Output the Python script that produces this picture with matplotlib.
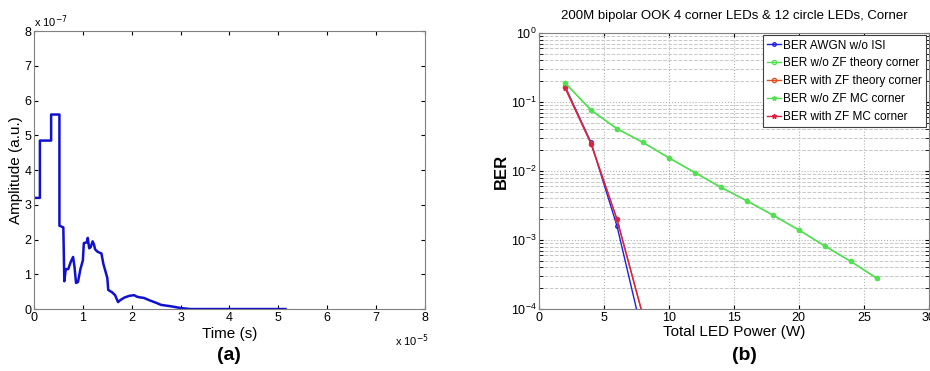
import numpy as np
import matplotlib
matplotlib.use("Agg")
from matplotlib import pyplot as plt

plt.rcParams['font.family'] = ['Liberation Sans', 'DejaVu Sans']

# (a) impulse response, time in 1e-5 s, amplitude in 1e-7
t_a = [0, 0.12, 0.12, 0.35, 0.35, 0.52, 0.52, 0.60, 0.62, 0.65, 0.70, 0.75, 0.80, 0.83, 0.86,
       0.90, 0.95, 1.00, 1.02, 1.08, 1.10, 1.13, 1.16, 1.20, 1.23, 1.25, 1.30, 1.38, 1.42,
       1.47, 1.50, 1.52, 1.60, 1.66, 1.72, 1.76, 1.85, 1.95, 2.05, 2.10, 2.15, 2.25, 2.35,
       2.50, 2.60, 2.80, 3.00, 3.20, 5.15]
amp_a = [3.2, 3.2, 4.85, 4.85, 5.6, 5.6, 2.4, 2.35, 0.8, 1.15, 1.15, 1.35, 1.5, 1.2, 0.75,
         0.78, 1.15, 1.4, 1.9, 1.92, 2.05, 1.75, 1.78, 1.95, 1.85, 1.72, 1.65, 1.6, 1.3,
         1.05, 0.9, 0.55, 0.48, 0.4, 0.2, 0.25, 0.33, 0.38, 0.4, 0.36, 0.34, 0.32, 0.26,
         0.18, 0.12, 0.08, 0.03, 0.0, 0.0]

# (b) BER vs total LED power
p_green = [2, 4, 6, 8, 10, 12, 14, 16, 18, 20, 22, 24, 26]
ber_nozf_th = [0.19, 0.077, 0.041, 0.026, 0.0155, 0.0095, 0.0058, 0.0037, 0.0023, 0.0014,
               0.00082, 0.00049, 0.00028]
ber_nozf_mc = [0.19, 0.076, 0.041, 0.026, 0.0155, 0.0095, 0.0058, 0.0037, 0.0023, 0.0014,
               0.00082, 0.00049, 0.00028]
p_zf = [2, 4, 6, 8]
ber_awgn = [0.17, 0.026, 0.0016, 0.00004]
ber_zf_th = [0.165, 0.025, 0.002, 0.00008]
ber_zf_mc = [0.16, 0.025, 0.002, 0.00008]

fig = plt.figure(figsize=(9.3, 3.71), dpi=100)

# ---- (a)
ax1 = fig.add_axes([0.0366, 0.167, 0.420, 0.749])
ax1.plot(t_a, amp_a, color='#1010d0', lw=1.8)
ax1.set_xlim(0, 8)
ax1.set_ylim(0, 8)
ax1.set_xticks(range(9))
ax1.set_yticks(range(9))
ax1.tick_params(direction='in', top=True, right=True, labelsize=9, length=3, pad=2)
ax1.set_xlabel('Time (s)', fontsize=11, labelpad=2)
ax1.set_ylabel('Amplitude (a.u.)', fontsize=11, labelpad=1)
ax1.text(0.0, 1.005, r'x 10$^{-7}$', transform=ax1.transAxes, fontsize=8, va='bottom', ha='left')
ax1.text(1.01, -0.085, r'x 10$^{-5}$', transform=ax1.transAxes, fontsize=8, va='top', ha='right')
for s in ax1.spines.values():
    s.set_color('#808080')
fig.text(0.246, 0.02, '(a)', fontsize=14, fontweight='bold', ha='center', va='bottom')

# ---- (b)
ax2 = fig.add_axes([0.5796, 0.167, 0.419, 0.744])
ax2.semilogy(p_zf, ber_awgn, '-o', color='#2020e0', lw=1, ms=2.5, mfc='none', label='BER AWGN w/o ISI')
ax2.semilogy(p_green, ber_nozf_th, '-o', color='#50e050', lw=1, ms=3, mfc='none', label='BER w/o ZF theory corner')
ax2.semilogy(p_zf, ber_zf_th, '-o', color='#e05020', lw=1, ms=3, mfc='none', label='BER with ZF theory corner')
ax2.semilogy(p_green, ber_nozf_mc, '-*', color='#50e050', lw=1, ms=3.5, label='BER w/o ZF MC corner')
ax2.semilogy(p_zf, ber_zf_mc, '-*', color='#e02040', lw=1, ms=3.5, label='BER with ZF MC corner')
ax2.set_xlim(0, 30)
ax2.set_ylim(1e-4, 1)
ax2.set_xticks(range(0, 31, 5))
ax2.set_yticks([1e-4, 1e-3, 1e-2, 1e-1, 1])
ax2.grid(True, which='major', axis='both', ls=':', color='#b0b0b0', lw=0.8)
ax2.grid(True, which='minor', axis='y', ls='--', color='#c8c8c8', lw=0.7)
ax2.tick_params(direction='in', which='both', top=True, right=True, labelsize=9, length=3, pad=2)
ax2.set_xlabel('Total LED Power (W)', fontsize=11, labelpad=1)
ax2.set_ylabel('BER', fontsize=12, fontweight='bold', labelpad=1)
ax2.set_title('200M bipolar OOK 4 corner LEDs & 12 circle LEDs, Corner', fontsize=9.5, pad=10)
for s in ax2.spines.values():
    s.set_color('#808080')
leg = ax2.legend(loc='upper right', fontsize=8.5, fancybox=False, framealpha=1,
                 borderpad=0.35, labelspacing=0.5, handlelength=1.2, handletextpad=0.2,
                 borderaxespad=0.2, edgecolor='#404040')
leg.get_frame().set_linewidth(0.8)
fig.text(0.801, 0.02, '(b)', fontsize=14, fontweight='bold', ha='center', va='bottom')

fig.savefig('out.png', dpi=100)
